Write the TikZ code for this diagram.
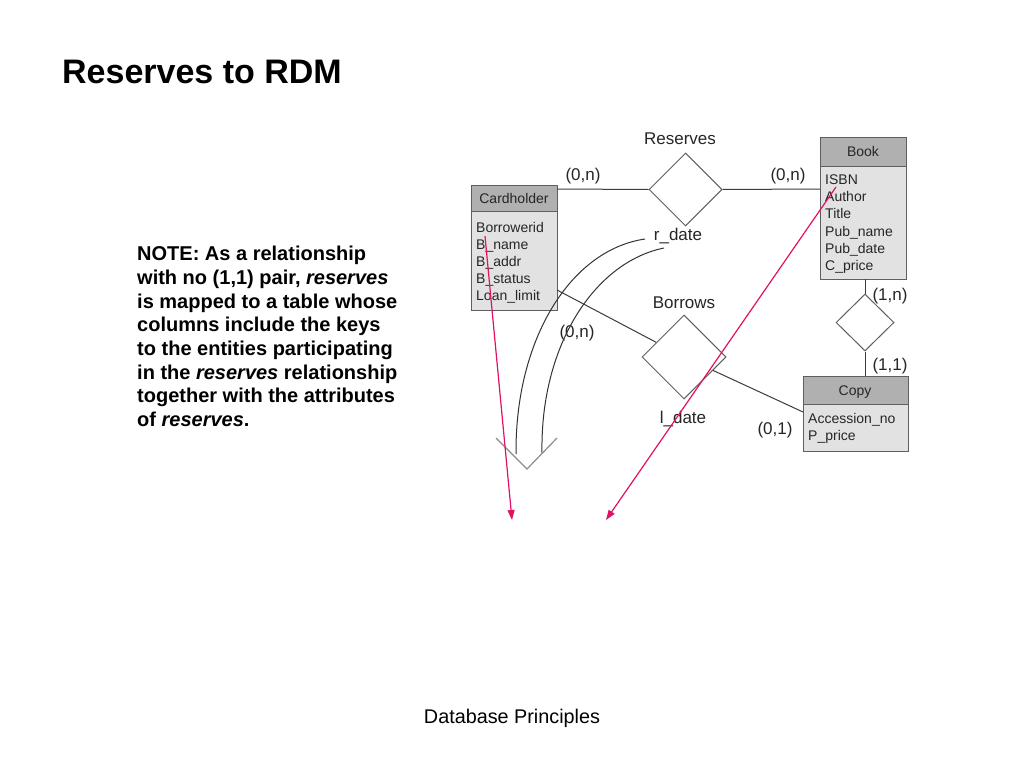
\documentclass[tikz,border=0pt]{standalone}
\usepackage{fontspec}
\setmainfont{Liberation Sans}
\usetikzlibrary{shapes.geometric,arrows.meta}
\definecolor{hdr}{RGB}{176,176,176}
\definecolor{bdy}{RGB}{226,226,226}
\definecolor{bord}{RGB}{95,95,95}
\definecolor{lin}{RGB}{60,60,60}
\definecolor{pinkred}{RGB}{228,16,100}
\definecolor{chev}{RGB}{140,140,140}
\begin{document}
\begin{tikzpicture}[x=1pt,y=-1pt,
  hdrbox/.style={draw=bord,fill=hdr,line width=1pt},
  bdybox/.style={draw=bord,fill=bdy,line width=1pt},
  attr/.style={anchor=base west,inner sep=0pt,font=\fontsize{14}{16}\selectfont,text=black!85},
  ttl/.style={anchor=base,inner sep=0pt,font=\fontsize{14}{16}\selectfont,text=black!85},
  lbl/.style={anchor=base,inner sep=0pt,font=\fontsize{17}{19}\selectfont,text=black!85},
  rel/.style={diamond,draw=bord,fill=white,line width=1pt,inner sep=0pt},
  conn/.style={draw=lin,line width=1pt},
  pinkarrow/.style={draw=pinkred,line width=1.2pt,-{Triangle[length=10pt,width=7pt]}}
]
\useasboundingbox (0,0) rectangle (1024,768);
\fill[white] (0,0) rectangle (1024,768);

% title
\node[anchor=base west,inner sep=0pt,font=\fontsize{34}{40}\selectfont\bfseries] (title) at (62,83) {Reserves to RDM};

% note
\node[anchor=north west,inner sep=0pt,align=left,font=\fontsize{20}{23.7}\selectfont\bfseries] (note) at (137,246)
 {NOTE: As a relationship\\
  with no (1,1) pair, \textit{reserves}\\
  is mapped to a table whose\\
  columns include the keys\\
  to the entities participating\\
  in the \textit{reserves} relationship\\
  together with the attributes\\
  of \textit{reserves}.};

% footer
\node[anchor=base,inner sep=0pt,font=\fontsize{19.8}{22}\selectfont] (footer) at (512,723) {Database Principles};

% Cardholder
\path[hdrbox] (471,185) rectangle (557,211);
\path[bdybox] (471,211) rectangle (557,310);
\node[ttl] (cardtitle) at (514,203) {Cardholder};
\node[attr] (ca1) at (476,232) {Borrowerid};
\node[attr] (ca2) at (476,249) {B\_name};
\node[attr] (ca3) at (476,266) {B\_addr};
\node[attr] (ca4) at (476,283) {B\_status};
\node[attr] (ca5) at (476,300) {Loan\_limit};
\coordinate (cardR) at (557,189);
\coordinate (cardB) at (557,290);

% Book
\path[hdrbox] (820,137) rectangle (906,166);
\path[bdybox] (820,166) rectangle (906,279);
\node[ttl] (booktitle) at (863,156) {Book};
\node[attr] (ba1) at (825,184) {ISBN};
\node[attr] (ba2) at (825,201) {Author};
\node[attr] (ba3) at (825,218) {Title};
\node[attr] (ba4) at (825,236) {Pub\_name};
\node[attr] (ba5) at (825,253) {Pub\_date};
\node[attr] (ba6) at (825,270) {C\_price};
\coordinate (bookL) at (820,189);
\coordinate (bookB) at (865,279);

% Copy
\path[hdrbox] (803,376) rectangle (908,404);
\path[bdybox] (803,404) rectangle (908,451);
\node[ttl] (copytitle) at (855,395) {Copy};
\node[attr] (pa1) at (808,423) {Accession\_no};
\node[attr] (pa2) at (808,440) {P\_price};
\coordinate (copyL) at (803,412);
\coordinate (copyT) at (865,376);

% relationships
\node[rel,minimum width=73pt,minimum height=73pt] (reserves) at (685.5,189.5) {};
\node[rel,minimum width=84pt,minimum height=84pt] (borrows) at (684,357) {};
\node[rel,minimum width=58pt,minimum height=57pt] (has) at (865,322.5) {};

\draw[conn] (cardR) -- (reserves.west);
\draw[conn] (reserves.east) -- (bookL);
\draw[conn] (cardB) -- (borrows);
\draw[conn] (borrows) -- (copyL);
\draw[conn] (bookB) -- (has.north);
\draw[conn] (has.south) -- (copyT);

% labels
\node[lbl] (lres) at (680,144) {Reserves};
\node[lbl] (lrd) at (678,240) {r\_date};
\node[lbl] (l0n1) at (583,180) {(0,n)};
\node[lbl] (l0n2) at (788,180) {(0,n)};
\node[lbl] (lbor) at (684,308) {Borrows};
\node[lbl] (lld) at (683,423) {l\_date};
\node[lbl] (l0n3) at (577,337) {(0,n)};
\node[lbl] (l01) at (775,434) {(0,1)};
\node[lbl] (l1n) at (890,300) {(1,n)};
\node[lbl] (l11) at (890,370) {(1,1)};

% curved arrow
\coordinate (ao1) at (645,239);
\coordinate (ao2) at (516,454);
\coordinate (ai1) at (664,248);
\coordinate (ai2) at (542,453);
\draw[draw=black!80,line width=1pt] (ao1) .. controls (570,250) and (515,340) .. (ao2);
\draw[draw=black!80,line width=1pt] (ai1) .. controls (595,262) and (540,345) .. (ai2);
\coordinate (cv1) at (496,438);
\coordinate (cv2) at (527,469);
\coordinate (cv3) at (557,438);
\draw[draw=chev,line width=1.2pt] (cv1) -- (cv2) -- (cv3);

% pink arrows
\coordinate (p1s) at (485,236);
\coordinate (p1e) at (512,520);
\coordinate (p2s) at (836,187);
\coordinate (p2e) at (606,520);
\draw[pinkarrow] (p1s) -- (p1e);
\draw[pinkarrow] (p2s) -- (p2e);
\end{tikzpicture}
\end{document}
